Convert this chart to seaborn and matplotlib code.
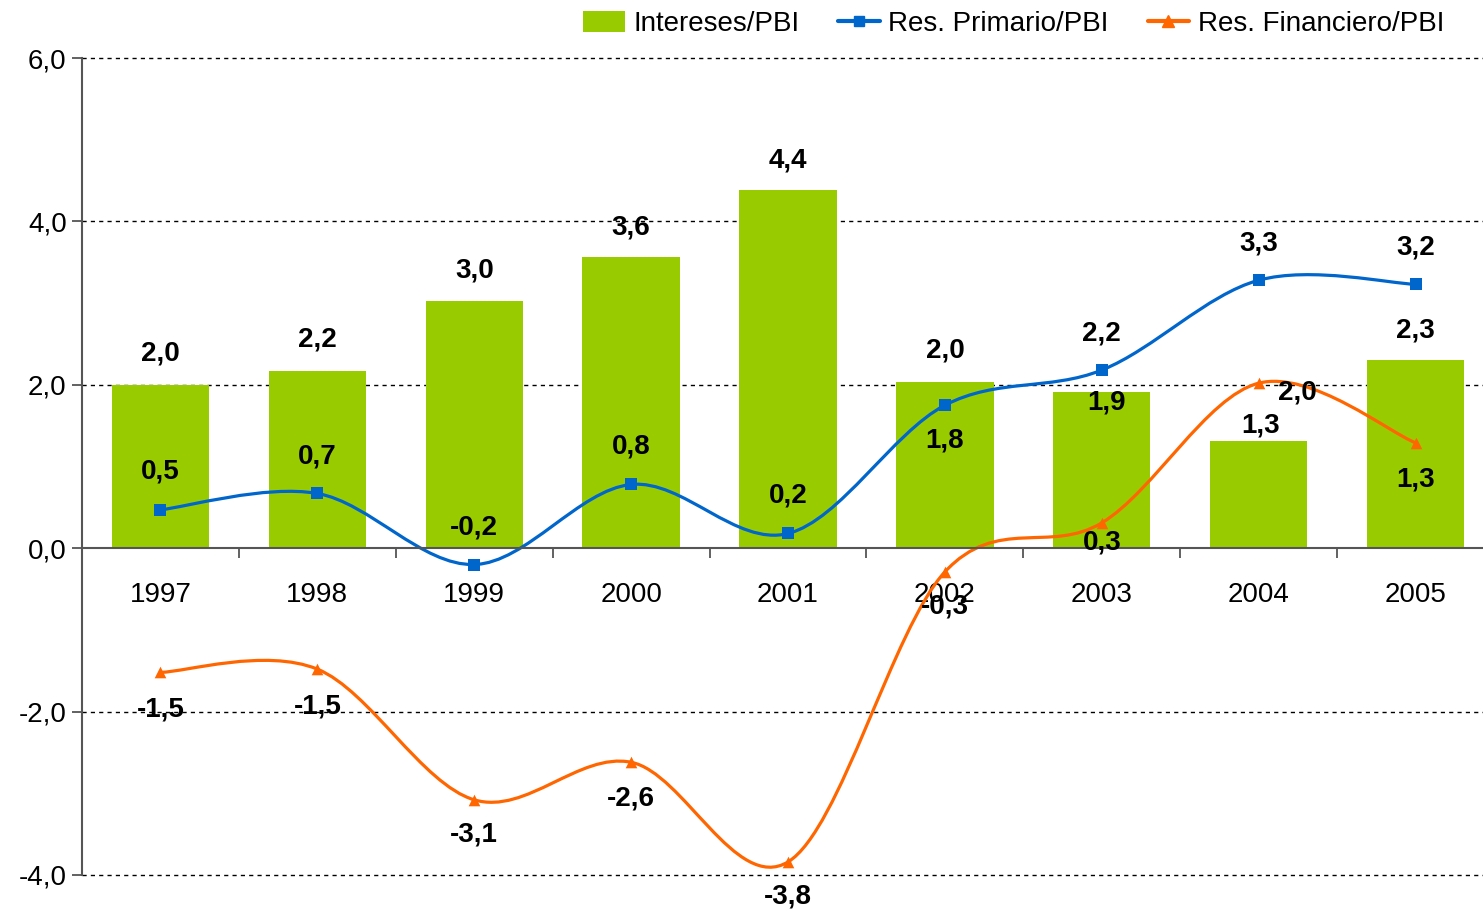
import numpy as np
import matplotlib
matplotlib.use('Agg')
import matplotlib.pyplot as plt
import seaborn as sns
from matplotlib.path import Path
from matplotlib.patches import PathPatch, Patch
from matplotlib.lines import Line2D

# data
years = ['1997', '1998', '1999', '2000', '2001', '2002', '2003', '2004', '2005']
intereses = [2.0, 2.17, 3.02, 3.56, 4.38, 2.04, 1.91, 1.31, 2.30]
primario = [0.47, 0.67, -0.2, 0.78, 0.18, 1.75, 2.18, 3.28, 3.23]
financiero = [-1.52, -1.48, -3.08, -2.62, -3.84, -0.29, 0.31, 2.02, 1.29]
y_ticks = [-4, -2, 0, 2, 4, 6]

# label offsets in pixels (x, y)
bar_off = [(0, 31), (0, 31), (0, 31), (0, 30), (0, 30), (0, 31), (5, -10), (2, 16), (0, 30)]
prim_off = [(0, 38), (0, 37), (0, 37), (0, 38), (0, 38), (0, -35), (0, 37), (0, 37), (0, 37)]
fin_off = [(0, -37), (0, -37), (0, -35), (0, -36), (0, -35), (0, -35), (0, -20), (39, -9), (0, -37)]

green = '#99CC00'
blue = '#0066CC'
orange = '#FF6600'

sns.set_theme(style='white')
plt.rcParams['font.family'] = ['Liberation Sans', 'DejaVu Sans']
plt.rcParams['text.color'] = 'black'
plt.rcParams['xtick.labelcolor'] = 'black'
plt.rcParams['ytick.labelcolor'] = 'black'

fig = plt.figure(figsize=(14.83, 9.10), dpi=100)
ax = fig.add_axes([82 / 1483, 35 / 910, (1494 - 82) / 1483, (875 - 58) / 910])

sns.barplot(x=years, y=intereses, color=green, width=0.62, saturation=1,
            edgecolor='none', ax=ax, zorder=2)

pos = np.arange(len(years))


def smooth_path(x, y):
    # Excel-style smoothed line (Catmull-Rom as cubic Bezier)
    pts = np.column_stack([x, y])
    verts = [pts[0]]
    codes = [Path.MOVETO]
    n = len(pts)
    for i in range(n - 1):
        p0 = pts[i - 1] if i > 0 else pts[i]
        p1 = pts[i]
        p2 = pts[i + 1]
        p3 = pts[i + 2] if i + 2 < n else pts[i + 1]
        c1 = p1 + (p2 - p0) / 6
        c2 = p2 - (p3 - p1) / 6
        verts += [c1, c2, p2]
        codes += [Path.CURVE4] * 3
    return Path(verts, codes)


for vals, col, mk in [(primario, blue, 's'), (financiero, orange, '^')]:
    ax.add_patch(PathPatch(smooth_path(pos, vals), facecolor='none', edgecolor=col,
                           lw=2.3, zorder=3, clip_on=False))
    sns.scatterplot(x=pos, y=vals, marker=mk, color=col, s=70, edgecolor=col,
                    linewidth=0, ax=ax, zorder=4, clip_on=False)


def fmt(v):
    return f'{v:.1f}'.replace('.', ',')


lab_kw = dict(textcoords='offset pixels', ha='center', va='center',
              fontsize=20, fontweight='bold', color='black', zorder=6,
              annotation_clip=False)
for i in range(len(years)):
    ax.annotate(fmt(intereses[i]), (pos[i], intereses[i]), xytext=bar_off[i], **lab_kw)
    ax.annotate(fmt(primario[i]), (pos[i], primario[i]), xytext=prim_off[i], **lab_kw)
    ax.annotate(fmt(financiero[i]), (pos[i], financiero[i]), xytext=fin_off[i], **lab_kw)

# axes styling
ax.set_xlim(-0.5, len(years) - 0.5)
ax.set_ylim(-4, 6)
ax.set_yticks(y_ticks)
ax.set_yticklabels([fmt(v) for v in y_ticks], fontsize=20, color='black')
for v in y_ticks:
    if v != 0:
        ax.axhline(v, color='black', lw=1, ls=(0, (3, 3)), zorder=1, clip_on=False)

ax.spines['top'].set_visible(False)
ax.spines['right'].set_visible(False)
ax.spines['bottom'].set_position(('data', 0))
for s in ['left', 'bottom']:
    ax.spines[s].set_color('#555555')
    ax.spines[s].set_linewidth(1.5)
ax.spines['bottom'].set_zorder(5)

ax.set_xticks(pos[:-1] + 0.5)
ax.set_xticklabels([])
ax.set_xticks(pos, minor=True)
ax.set_xticklabels(years, minor=True, fontsize=20, color='black')
ax.tick_params(axis='x', which='major', direction='out', length=7, width=1.3, color='#555555', bottom=True)
ax.tick_params(axis='x', which='minor', length=0, pad=24, bottom=True)
ax.tick_params(axis='y', direction='out', length=7, width=1.3, color='#555555', left=True, pad=4)
ax.set_xlabel('')
ax.set_ylabel('')

handles = [Patch(facecolor=green, edgecolor='none'),
           Line2D([], [], color=blue, lw=3, marker='s', markersize=7),
           Line2D([], [], color=orange, lw=3, marker='^', markersize=8)]
fig.legend(handles, ['Intereses/PBI', 'Res. Primario/PBI', 'Res. Financiero/PBI'],
           loc='center right', bbox_to_anchor=(1455 / 1483, 1 - 24 / 910), ncol=3,
           frameon=False, fontsize=20, handlelength=1.5, handleheight=0.8,
           handletextpad=0.3, columnspacing=1.4, borderaxespad=0,
           labelcolor='black')

fig.savefig('out.png', dpi=100)
